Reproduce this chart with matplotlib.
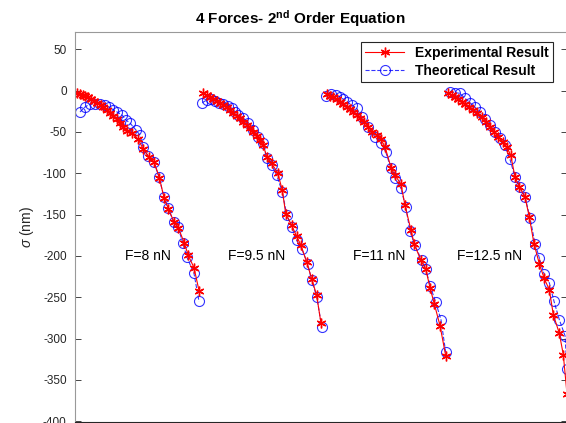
import matplotlib
matplotlib.use('Agg')
import matplotlib.pyplot as plt

plt.rcParams['font.family'] = ['Liberation Sans', 'DejaVu Sans']
plt.rcParams['mathtext.fontset'] = 'custom'
plt.rcParams['mathtext.rm'] = 'Liberation Sans'
plt.rcParams['mathtext.it'] = 'Liberation Sans:italic'
plt.rcParams['mathtext.bf'] = 'Liberation Sans:bold'
plt.rcParams['axes.unicode_minus'] = False

# F = 8 nN
exp_x1 = [2.3, 5, 7.7, 10.3, 13.3, 16, 19, 22.3, 25.7, 28.3, 31.7, 35, 38.3, 41.7, 45, 48.3,
          52.3, 56.7, 63.3, 68.3, 74, 79.3, 84.3, 89, 93.3, 99, 103.3, 109.3, 113.3, 119, 124]
exp_y1 = [-2.4, -4.0, -5.2, -6.4, -8.0, -10.1, -12.5, -15.3, -17.4, -20.1, -23.4, -26.7, -30.7,
          -34.7, -38.8, -43.7, -48.5, -51.7, -59.0, -71.1, -80.1, -86.9, -105.1, -129.4, -142.7,
          -159.0, -165.8, -184.5, -199.4, -214.3, -241.9]
th_x1 = [5, 10, 15, 20, 25, 30, 34, 38, 42, 47, 51, 55, 61, 65, 68, 73, 79, 84, 89, 93, 99,
         103, 108, 112, 119, 124]
th_y1 = [-25.8, -19.8, -16.1, -16.1, -16.1, -17.4, -19.8, -22.8, -25.8, -29.5, -35.6, -39.2,
         -47.7, -53.8, -68.3, -79.2, -86.5, -104.7, -129.0, -142.4, -159.3, -165.4, -184.8,
         -201.8, -221.2, -255.1]

# F = 9.5 nN
exp_x2 = [128.3, 131.7, 135, 138.3, 141.7, 145, 148.3, 151.7, 155, 158.3, 161.7, 165, 168.3,
          171.7, 175, 178.3, 181.7, 185, 188.3, 191.7, 196.7, 202.7, 207.3, 210.7, 216.7, 221.7,
          226, 231.7, 236.7, 241.7, 246]
exp_y2 = [-3.2, -5.2, -8.0, -10.4, -12.1, -14.6, -17.4, -20.1, -23.4, -27.4, -30.7, -33.5, -37.6,
          -41.6, -45.6, -49.8, -55.0, -59.8, -65.9, -80.1, -88.1, -99.5, -120.5, -148.8, -163.0,
          -176.3, -187.3, -207.5, -227.7, -247.9, -281.6]
th_x2 = [127.3, 131.7, 136, 140, 144, 148.3, 152.7, 156.7, 160, 163.3, 168.3, 173.3, 178.3,
         183.3, 188.3, 191.7, 196.7, 201.7, 207.3, 211.7, 216.7, 221.7, 226.7, 232.7, 236.7,
         241.7, 246.7]
th_y2 = [-14.6, -11.3, -10.4, -12.1, -14.6, -16.1, -18.6, -21.4, -25.5, -29.5, -33.5, -38.8,
         -47.7, -55.8, -63.1, -82.0, -90.2, -102.3, -122.6, -150.0, -165.1, -181.2, -191.3,
         -209.5, -229.7, -249.2, -285.6]

# F = 11 nN
exp_x3 = [251.7, 255, 258.3, 261.7, 265, 268.3, 271.7, 275, 278.3, 281.7, 285, 289.3, 293.3,
          297.3, 301.7, 306, 310, 316, 320, 326, 330, 336, 339.3, 346, 350.7, 355, 359.3, 365,
          370.7]
exp_y3 = [-4.0, -6.4, -8.0, -10.4, -13.3, -16.1, -19.4, -22.6, -25.5, -29.5, -33.5, -37.6, -43.7,
          -49.8, -53.8, -59.0, -68.0, -93.0, -102.3, -113.2, -138.7, -169.1, -186.0, -205.5,
          -215.5, -238.6, -258.0, -284.3, -320.8]
th_x3 = [250.7, 256, 260.7, 265, 268.3, 271.7, 276.7, 281.7, 286.7, 293.3, 300, 306, 310.7, 316,
         320, 326, 330.7, 335, 340, 346.7, 350.7, 355, 360.7, 366, 370.7]
th_y3 = [-6.4, -4.0, -5.2, -7.5, -10.4, -13.3, -17.4, -21.4, -31.6, -43.7, -55.8, -63.8, -74.0,
         -94.2, -106.3, -118.4, -140.8, -169.9, -187.3, -205.5, -215.5, -235.8, -256.1, -277.4,
         -316.7]

# F = 12.5 nN
exp_x4 = [373.3, 376.7, 380, 383.3, 386.7, 390, 394.3, 398.3, 402.3, 406.7, 411, 415, 419, 423.3,
          427.7, 431.7, 435.7, 440, 444.3, 450, 454.3, 459, 464.3, 469, 474.3, 478.3, 484.3,
          488.3, 492]
exp_y4 = [-3.2, -5.2, -8.0, -10.4, -13.3, -16.1, -19.4, -23.4, -27.4, -31.6, -37.6, -43.7, -49.8,
          -55.8, -61.9, -68.0, -78.0, -104.4, -116.5, -128.6, -152.9, -185.2, -209.5, -226.5,
          -241.0, -271.0, -293.7, -319.5, -366.9]
th_x4 = [375, 380, 385, 390, 395, 400, 405, 410, 415, 420, 425, 430, 435, 440, 445, 450, 455, 460,
         464.3, 469, 474.3, 479, 484.3, 490, 492]
th_y4 = [-1.2, -2.4, -3.2, -9.2, -14.6, -20.1, -25.5, -34.7, -41.6, -49.8, -57.8, -65.9, -83.3,
         -104.4, -116.5, -128.6, -153.6, -185.2, -202.2, -221.6, -232.5, -254.9, -277.1, -296.5,
         -336.5]

force_labels = ['F=8 nN', 'F=9.5 nN', 'F=11 nN', 'F=12.5 nN']
label_x = [50, 153, 278, 382]
label_y = -200

exp_sets = [(exp_x1, exp_y1), (exp_x2, exp_y2), (exp_x3, exp_y3), (exp_x4, exp_y4)]
th_sets = [(th_x1, th_y1), (th_x2, th_y2), (th_x3, th_y3), (th_x4, th_y4)]

fig = plt.figure(figsize=(5.66, 4.23), dpi=100)
ax = fig.add_axes([75 / 566, 1 / 423, 492 / 566, 390 / 423])

# matlab style asterisk
star = (6, 2, 0)

for i in range(4):
    tx, ty = th_sets[i]
    ex, ey = exp_sets[i]
    th_line, = ax.plot(tx, ty, '--', marker='o', color='blue', lw=0.8, ms=7.2, mfc='none',
                       mew=0.8, alpha=0.8, label='Theoretical Result')
    exp_line, = ax.plot(ex, ey, '-', marker=star, color='red', lw=0.8, ms=7, mew=1.0,
                        label='Experimental Result')
    ax.text(label_x[i], label_y, force_labels[i], fontsize=10, ha='left', va='center')

ax.set_xlim(0, 492)
ax.set_ylim(-401, 71)
ax.set_yticks(range(-400, 51, 50))
ax.set_xticks([])
ax.tick_params(axis='y', direction='in', length=4, width=0.6, labelsize=8.5,
               right=True, colors='0.15', pad=6)
for s in ['left', 'top']:
    ax.spines[s].set_color('0.6')
    ax.spines[s].set_linewidth(0.8)
ax.spines['bottom'].set_color('0.15')
ax.spines['right'].set_visible(False)

ax.set_ylabel(r'$\sigma$ (nm)', fontsize=10, color='0.15', labelpad=5)
ax.set_title(r'4 Forces- 2$^{\mathbf{nd}}$ Order Equation', fontsize=11,
             fontweight='bold', x=0.458, pad=6)

leg = ax.legend([exp_line, th_line], ['Experimental Result', 'Theoretical Result'],
                loc='upper right', bbox_to_anchor=(553 / 566, 1 - 42 / 423),
                bbox_transform=fig.transFigure, borderaxespad=0, fancybox=False,
                edgecolor='0.15', framealpha=1, handlelength=2.8,
                prop={'weight': 'bold', 'size': 10}, borderpad=0.3, labelspacing=0.3)
leg.get_frame().set_linewidth(0.8)

fig.savefig('out.png', dpi=100)
